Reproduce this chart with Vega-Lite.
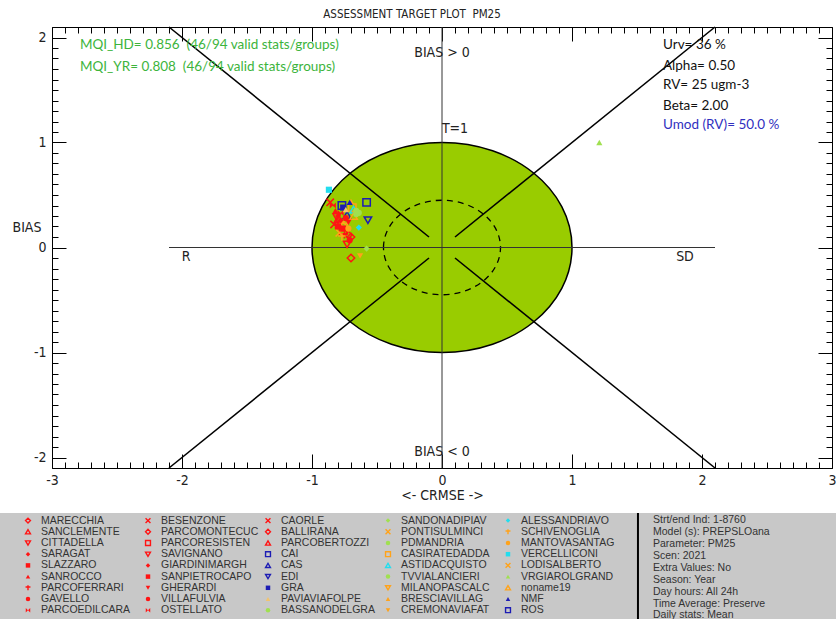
{
  "$schema": "https://vega.github.io/schema/vega-lite/v6.json",
  "background": "white",
  "padding": {"left": 0, "top": 8, "right": 0, "bottom": 0},
  "spacing": 9,
  "config": {
    "view": {"stroke": null},
    "font": "Liberation Sans",
    "axis": {"labelOverlap": false, "labelFlush": false, "labelBound": false, "grid": false, "ticks": true, "domain": false, "zindex": 1, "tickColor": "#000000", "tickWidth": 1}
  },
  "datasets": {
    "stations": [
      {"name": "MARECCHIA", "crmse": -0.70, "bias": -0.10, "lcol": 0, "lrow": 0},
      {"name": "SANCLEMENTE", "crmse": -0.79, "bias": 0.22, "lcol": 0, "lrow": 1},
      {"name": "CITTADELLA", "crmse": -0.73, "bias": 0.03, "lcol": 0, "lrow": 2},
      {"name": "SARAGAT", "crmse": -0.80, "bias": 0.30, "lcol": 0, "lrow": 3},
      {"name": "SLAZZARO", "crmse": -0.76, "bias": 0.18, "lcol": 0, "lrow": 4},
      {"name": "SANROCCO", "crmse": -0.82, "bias": 0.35, "lcol": 0, "lrow": 5},
      {"name": "PARCOFERRARI", "crmse": -0.75, "bias": 0.12, "lcol": 0, "lrow": 6},
      {"name": "GAVELLO", "crmse": -0.71, "bias": 0.07, "lcol": 0, "lrow": 7},
      {"name": "PARCOEDILCARA", "crmse": -0.84, "bias": 0.40, "lcol": 0, "lrow": 8},
      {"name": "BESENZONE", "crmse": -0.86, "bias": 0.43, "lcol": 1, "lrow": 0},
      {"name": "PARCOMONTECUC", "crmse": -0.70, "bias": 0.10, "lcol": 1, "lrow": 1},
      {"name": "PARCORESISTEN", "crmse": -0.76, "bias": 0.16, "lcol": 1, "lrow": 2},
      {"name": "SAVIGNANO", "crmse": -0.81, "bias": 0.29, "lcol": 1, "lrow": 3},
      {"name": "GIARDINIMARGH", "crmse": -0.78, "bias": 0.26, "lcol": 1, "lrow": 4},
      {"name": "SANPIETROCAPO", "crmse": -0.80, "bias": 0.20, "lcol": 1, "lrow": 5},
      {"name": "GHERARDI", "crmse": -0.72, "bias": 0.24, "lcol": 1, "lrow": 6},
      {"name": "VILLAFULVIA", "crmse": -0.74, "bias": 0.28, "lcol": 1, "lrow": 7},
      {"name": "OSTELLATO", "crmse": -0.78, "bias": 0.33, "lcol": 1, "lrow": 8},
      {"name": "CAORLE", "crmse": -0.83, "bias": 0.22, "lcol": 2, "lrow": 0},
      {"name": "BALLIRANA", "crmse": -0.72, "bias": 0.12, "lcol": 2, "lrow": 1},
      {"name": "PARCOBERTOZZI", "crmse": -0.80, "bias": 0.27, "lcol": 2, "lrow": 2},
      {"name": "CAI", "crmse": -0.77, "bias": 0.40, "lcol": 2, "lrow": 3},
      {"name": "CAS", "crmse": -0.73, "bias": 0.31, "lcol": 2, "lrow": 4},
      {"name": "EDI", "crmse": -0.57, "bias": 0.26, "lcol": 2, "lrow": 5},
      {"name": "GRA", "crmse": -0.76, "bias": 0.38, "lcol": 2, "lrow": 6},
      {"name": "PAVIAVIAFOLPE", "crmse": -0.74, "bias": 0.36, "lcol": 2, "lrow": 7},
      {"name": "BASSANODELGRA", "crmse": -0.66, "bias": 0.32, "lcol": 2, "lrow": 8},
      {"name": "SANDONADIPIAV", "crmse": -0.58, "bias": -0.01, "lcol": 3, "lrow": 0},
      {"name": "PONTISULMINCI", "crmse": -0.76, "bias": 0.24, "lcol": 3, "lrow": 1},
      {"name": "PDMANDRIA", "crmse": -0.64, "bias": 0.33, "lcol": 3, "lrow": 2},
      {"name": "CASIRATEDADDA", "crmse": -0.69, "bias": 0.38, "lcol": 3, "lrow": 3},
      {"name": "ASTIDACQUISTO", "crmse": -0.68, "bias": 0.36, "lcol": 3, "lrow": 4},
      {"name": "TVVIALANCIERI", "crmse": -0.66, "bias": 0.35, "lcol": 3, "lrow": 5},
      {"name": "MILANOPASCALC", "crmse": -0.75, "bias": 0.20, "lcol": 3, "lrow": 6},
      {"name": "BRESCIAVILLAG", "crmse": -0.70, "bias": 0.44, "lcol": 3, "lrow": 7},
      {"name": "CREMONAVIAFAT", "crmse": -0.63, "bias": -0.08, "lcol": 3, "lrow": 8},
      {"name": "ALESSANDRIAVO", "crmse": -0.64, "bias": 0.19, "lcol": 4, "lrow": 0},
      {"name": "SCHIVENOGLIA", "crmse": -0.77, "bias": 0.10, "lcol": 4, "lrow": 1},
      {"name": "MANTOVASANTAG", "crmse": -0.72, "bias": 0.18, "lcol": 4, "lrow": 2},
      {"name": "VERCELLICONI", "crmse": -0.87, "bias": 0.55, "lcol": 4, "lrow": 3},
      {"name": "LODISALBERTO", "crmse": -0.79, "bias": 0.14, "lcol": 4, "lrow": 4},
      {"name": "VRGIAROLGRAND", "crmse": 1.21, "bias": 1.00, "lcol": 4, "lrow": 5},
      {"name": "noname19", "crmse": -0.68, "bias": 0.30, "lcol": 4, "lrow": 6},
      {"name": "NMF", "crmse": -0.71, "bias": 0.43, "lcol": 4, "lrow": 7},
      {"name": "ROS", "crmse": -0.58, "bias": 0.43, "lcol": 4, "lrow": 8}
    ],
    "segments": [
      {"crmse": -2.1, "bias": 2.1, "crmse2": -0.1, "bias2": 0.1},
      {"crmse": 2.1, "bias": 2.1, "crmse2": 0.1, "bias2": 0.1},
      {"crmse": -2.1, "bias": -2.1, "crmse2": -0.1, "bias2": -0.1},
      {"crmse": 2.1, "bias": -2.1, "crmse2": 0.1, "bias2": -0.1}
    ],
    "crosshair": [
      {"crmse": -2.1, "bias": 0, "crmse2": 2.1, "bias2": 0},
      {"crmse": 0, "bias": -2.1, "crmse2": 0, "bias2": 2.1}
    ],
    "sectors": [
      {"text": "BIAS > 0", "crmse": 0, "bias": 1.857},
      {"text": "BIAS < 0", "crmse": 0, "bias": -1.952},
      {"text": "T=1", "crmse": 0.1, "bias": 1.124},
      {"text": "R", "crmse": -1.969, "bias": -0.086},
      {"text": "SD", "crmse": 1.869, "bias": -0.086}
    ],
    "mqi": [
      {"text": "MQI_HD= 0.856\u00a0 (46/94 valid stats/groups)", "crmse": -2.785, "bias": 1.924},
      {"text": "MQI_YR= 0.808\u00a0 (46/94 valid stats/groups)", "crmse": -2.785, "bias": 1.72}
    ],
    "params": [
      {"text": "Urv= 36 %", "crmse": 1.70, "bias": 1.924},
      {"text": "Alpha= 0.50", "crmse": 1.70, "bias": 1.733},
      {"text": "RV= 25 ugm-3", "crmse": 1.70, "bias": 1.543},
      {"text": "Beta= 2.00", "crmse": 1.70, "bias": 1.352}
    ],
    "umod": [
      {"text": "Umod (RV)= 50.0 %", "crmse": 1.70, "bias": 1.162}
    ],
    "info": [
      {"line": "Strt/end Ind: 1-8760", "irow": 0},
      {"line": "Model (s): PREPSLOana", "irow": 1},
      {"line": "Parameter: PM25", "irow": 2},
      {"line": "Scen: 2021", "irow": 3},
      {"line": "Extra Values: No", "irow": 4},
      {"line": "Season: Year", "irow": 5},
      {"line": "Day hours: All 24h", "irow": 6},
      {"line": "Time Average: Preserve", "irow": 7},
      {"line": "Daily stats: Mean", "irow": 8}
    ]
  },
  "vconcat": [
    {
      "width": 780,
      "height": 441,
      "title": {
        "text": "ASSESSMENT TARGET PLOT\u00a0\u00a0PM25",
        "frame": "group",
        "anchor": "middle",
        "dx": -30,
        "font": "Liberation Sans Narrow, DejaVu Sans Condensed, Liberation Sans",
        "fontSize": 11.5,
        "fontWeight": "normal",
        "color": "#222222",
        "offset": 6
      },
      "view": {"stroke": "#000000", "strokeWidth": 1},
      "resolve": {"axis": {"x": "independent", "y": "independent"}},
      "layer": [
        {
          "data": {"values": [{"crmse": 0, "bias": 0}]},
          "mark": {
            "type": "point",
            "shape": "M-1,0A1,0.8077,0,1,1,1,0A1,0.8077,0,1,1,-1,0Z",
            "size": 67600,
            "filled": true,
            "fill": "#99cc00",
            "fillOpacity": 1,
            "stroke": "#000000",
            "strokeWidth": 1.5,
            "opacity": 1
          },
          "encoding": {
            "x": {
              "field": "crmse", "type": "quantitative",
              "scale": {"domain": [-3, 3], "nice": false, "zero": false},
              "axis": {
                "orient": "bottom",
                "offset": -6,
                "tickSize": 6,
                "values": [-3,-2.9,-2.8,-2.7,-2.6,-2.5,-2.4,-2.3,-2.2,-2.1,-2,-1.9,-1.8,-1.7,-1.6,-1.5,-1.4,-1.3,-1.2,-1.1,-1,-0.9,-0.8,-0.7,-0.6,-0.5,-0.4,-0.3,-0.2,-0.1,0,0.1,0.2,0.3,0.4,0.5,0.6,0.7,0.8,0.9,1,1.1,1.2,1.3,1.4,1.5,1.6,1.7,1.8,1.9,2,2.1,2.2,2.3,2.4,2.5,2.6,2.7,2.8,2.9,3],
                "labelExpr": "abs(datum.value - round(datum.value)) < 0.001 ? '' + round(datum.value) : ''",
                "labelPadding": 5,
                "labelFont": "Liberation Sans Narrow, DejaVu Sans Condensed, Liberation Sans",
                "labelFontSize": 14,
                "labelColor": "#222222",
                "title": "<- CRMSE ->",
                "titleFont": "Liberation Sans Narrow, DejaVu Sans Condensed, Liberation Sans",
                "titleFontSize": 14,
                "titleFontWeight": "normal",
                "titleColor": "#222222",
                "titlePadding": 1
              }
            },
            "y": {
              "field": "bias", "type": "quantitative",
              "scale": {"domain": [-2.1, 2.1], "nice": false, "zero": false},
              "axis": {
                "orient": "left",
                "offset": -6,
                "tickSize": 6,
                "values": [-2,-1.9,-1.8,-1.7,-1.6,-1.5,-1.4,-1.3,-1.2,-1.1,-1,-0.9,-0.8,-0.7,-0.6,-0.5,-0.4,-0.3,-0.2,-0.1,0,0.1,0.2,0.3,0.4,0.5,0.6,0.7,0.8,0.9,1,1.1,1.2,1.3,1.4,1.5,1.6,1.7,1.8,1.9,2],
                "labelExpr": "abs(datum.value - round(datum.value)) < 0.001 ? '' + round(datum.value) : ''",
                "labelPadding": 6,
                "labelFont": "Liberation Sans Narrow, DejaVu Sans Condensed, Liberation Sans",
                "labelFontSize": 14,
                "labelColor": "#222222",
                "title": "BIAS",
                "titleAngle": 0,
                "titleAlign": "left",
                "titleBaseline": "middle",
                "titleX": -46,
                "titleY": 200,
                "titleFont": "Liberation Sans Narrow, DejaVu Sans Condensed, Liberation Sans",
                "titleFontSize": 14,
                "titleFontWeight": "normal",
                "titleColor": "#222222"
              }
            }
          }
        },
        {
          "data": {"values": [{"crmse": 0, "bias": 0}]},
          "mark": {
            "type": "point",
            "shape": "M-1,0A1,0.8077,0,1,1,1,0A1,0.8077,0,1,1,-1,0Z",
            "size": 13689,
            "filled": false,
            "stroke": "#000000",
            "strokeWidth": 1.3,
            "strokeDash": [6, 5],
            "opacity": 1
          },
          "encoding": {
            "x": {
              "field": "crmse", "type": "quantitative",
              "scale": {"domain": [-3, 3], "nice": false, "zero": false},
              "axis": {
                "orient": "top",
                "offset": -6,
                "tickSize": 6,
                "values": [-3,-2.9,-2.8,-2.7,-2.6,-2.5,-2.4,-2.3,-2.2,-2.1,-2,-1.9,-1.8,-1.7,-1.6,-1.5,-1.4,-1.3,-1.2,-1.1,-1,-0.9,-0.8,-0.7,-0.6,-0.5,-0.4,-0.3,-0.2,-0.1,0,0.1,0.2,0.3,0.4,0.5,0.6,0.7,0.8,0.9,1,1.1,1.2,1.3,1.4,1.5,1.6,1.7,1.8,1.9,2,2.1,2.2,2.3,2.4,2.5,2.6,2.7,2.8,2.9,3],
                "labels": false,
                "title": null
              }
            },
            "y": {
              "field": "bias", "type": "quantitative",
              "scale": {"domain": [-2.1, 2.1], "nice": false, "zero": false},
              "axis": {
                "orient": "right",
                "offset": -6,
                "tickSize": 6,
                "values": [-2,-1.9,-1.8,-1.7,-1.6,-1.5,-1.4,-1.3,-1.2,-1.1,-1,-0.9,-0.8,-0.7,-0.6,-0.5,-0.4,-0.3,-0.2,-0.1,0,0.1,0.2,0.3,0.4,0.5,0.6,0.7,0.8,0.9,1,1.1,1.2,1.3,1.4,1.5,1.6,1.7,1.8,1.9,2],
                "labels": false,
                "title": null
              }
            }
          }
        },
        {
          "data": {"name": "crosshair"},
          "mark": {"type": "rule", "color": "#333333", "strokeWidth": 1},
          "encoding": {
            "x": {
              "field": "crmse", "type": "quantitative", "scale": {"domain": [-3, 3], "nice": false, "zero": false},
              "axis": {"orient": "bottom", "offset": -14, "tickSize": 14, "values": [-3, -2, -1, 0, 1, 2, 3], "labels": false, "title": null}
            },
            "y": {
              "field": "bias", "type": "quantitative", "scale": {"domain": [-2.1, 2.1], "nice": false, "zero": false},
              "axis": {"orient": "left", "offset": -14, "tickSize": 14, "values": [-2, -1, 0, 1, 2], "labels": false, "title": null}
            },
            "x2": {"field": "crmse2"},
            "y2": {"field": "bias2"}
          }
        },
        {
          "data": {"name": "segments"},
          "mark": {"type": "rule", "color": "#000000", "strokeWidth": 1.6},
          "encoding": {
            "x": {
              "field": "crmse", "type": "quantitative", "scale": {"domain": [-3, 3], "nice": false, "zero": false},
              "axis": {"orient": "top", "offset": -14, "tickSize": 14, "values": [-3, -2, -1, 0, 1, 2, 3], "labels": false, "title": null}
            },
            "y": {
              "field": "bias", "type": "quantitative", "scale": {"domain": [-2.1, 2.1], "nice": false, "zero": false},
              "axis": {"orient": "right", "offset": -14, "tickSize": 14, "values": [-2, -1, 0, 1, 2], "labels": false, "title": null}
            },
            "x2": {"field": "crmse2"},
            "y2": {"field": "bias2"}
          }
        },
        {
          "data": {"name": "sectors"},
          "mark": {"type": "text", "font": "Liberation Sans Narrow, DejaVu Sans Condensed, Liberation Sans", "fontSize": 14, "color": "#222222", "align": "center", "baseline": "middle"},
          "encoding": {
            "x": {"field": "crmse", "type": "quantitative", "scale": {"domain": [-3, 3], "nice": false, "zero": false}, "axis": null},
            "y": {"field": "bias", "type": "quantitative", "scale": {"domain": [-2.1, 2.1], "nice": false, "zero": false}, "axis": null},
            "text": {"field": "text"}
          }
        },
        {
          "data": {"name": "mqi"},
          "mark": {"type": "text", "font": "Lato", "fontSize": 13.5, "color": "#3cb43c", "align": "left", "baseline": "middle"},
          "encoding": {
            "x": {"field": "crmse", "type": "quantitative", "scale": {"domain": [-3, 3], "nice": false, "zero": false}, "axis": null},
            "y": {"field": "bias", "type": "quantitative", "scale": {"domain": [-2.1, 2.1], "nice": false, "zero": false}, "axis": null},
            "text": {"field": "text"}
          }
        },
        {
          "data": {"name": "params"},
          "mark": {"type": "text", "font": "Lato", "fontSize": 13.5, "color": "#111111", "align": "left", "baseline": "middle"},
          "encoding": {
            "x": {"field": "crmse", "type": "quantitative", "scale": {"domain": [-3, 3], "nice": false, "zero": false}, "axis": null},
            "y": {"field": "bias", "type": "quantitative", "scale": {"domain": [-2.1, 2.1], "nice": false, "zero": false}, "axis": null},
            "text": {"field": "text"}
          }
        },
        {
          "data": {"name": "umod"},
          "mark": {"type": "text", "font": "Lato", "fontSize": 13.5, "color": "#3030c0", "align": "left", "baseline": "middle"},
          "encoding": {
            "x": {"field": "crmse", "type": "quantitative", "scale": {"domain": [-3, 3], "nice": false, "zero": false}, "axis": null},
            "y": {"field": "bias", "type": "quantitative", "scale": {"domain": [-2.1, 2.1], "nice": false, "zero": false}, "axis": null},
            "text": {"field": "text"}
          }
        },
        {
          "data": {"name": "stations"},
          "transform": [{"filter": {"field": "name", "oneOf": ["MARECCHIA","SANCLEMENTE","CITTADELLA","PARCOFERRARI","BESENZONE","PARCOMONTECUC","PARCORESISTEN","SAVIGNANO","CAORLE","BALLIRANA","PARCOBERTOZZI","CAI","CAS","EDI","PONTISULMINCI","CASIRATEDADDA","ASTIDACQUISTO","MILANOPASCALC","SCHIVENOGLIA","LODISALBERTO","noname19","ROS"]}}],
          "mark": {"type": "point", "filled": false, "size": 55, "strokeWidth": 1.5, "opacity": 1},
          "encoding": {
            "x": {"field": "crmse", "type": "quantitative", "scale": {"domain": [-3, 3], "nice": false, "zero": false}, "axis": null},
            "y": {"field": "bias", "type": "quantitative", "scale": {"domain": [-2.1, 2.1], "nice": false, "zero": false}, "axis": null},
            "shape": {"field": "name", "type": "nominal", "legend": null,
              "scale": {
                "domain": ["MARECCHIA","SANCLEMENTE","CITTADELLA","SARAGAT","SLAZZARO","SANROCCO","PARCOFERRARI","GAVELLO","PARCOEDILCARA","BESENZONE","PARCOMONTECUC","PARCORESISTEN","SAVIGNANO","GIARDINIMARGH","SANPIETROCAPO","GHERARDI","VILLAFULVIA","OSTELLATO","CAORLE","BALLIRANA","PARCOBERTOZZI","CAI","CAS","EDI","GRA","PAVIAVIAFOLPE","BASSANODELGRA","SANDONADIPIAV","PONTISULMINCI","PDMANDRIA","CASIRATEDADDA","ASTIDACQUISTO","TVVIALANCIERI","MILANOPASCALC","BRESCIAVILLAG","CREMONAVIAFAT","ALESSANDRIAVO","SCHIVENOGLIA","MANTOVASANTAG","VERCELLICONI","LODISALBERTO","VRGIAROLGRAND","noname19","NMF","ROS"],
                "range": ["diamond","triangle-up","triangle-down","diamond","square","triangle-up","M-1,-0.3L1,-0.3M0,-1L0,1","circle","M-1,-1L1,1L1,-1L-1,1Z","M-1,-1L1,1M-1,1L1,-1","diamond","square","triangle-down","diamond","square","triangle-down","circle","M-1,-1L1,1L1,-1L-1,1Z","M-1,-1L1,1M-1,1L1,-1","diamond","triangle-up","square","triangle-up","triangle-down","square","triangle-up","circle","diamond","M-1,-1L1,1M-1,1L1,-1","circle","square","triangle-up","circle","triangle-down","triangle-up","triangle-down","diamond","M-1,-0.3L1,-0.3M0,-1L0,1","circle","square","M-1,-1L1,1M-1,1L1,-1","triangle-up","triangle-up","triangle-up","square"]
              }
            },
            "color": {"field": "name", "type": "nominal", "legend": null,
              "scale": {
                "domain": ["MARECCHIA","SANCLEMENTE","CITTADELLA","SARAGAT","SLAZZARO","SANROCCO","PARCOFERRARI","GAVELLO","PARCOEDILCARA","BESENZONE","PARCOMONTECUC","PARCORESISTEN","SAVIGNANO","GIARDINIMARGH","SANPIETROCAPO","GHERARDI","VILLAFULVIA","OSTELLATO","CAORLE","BALLIRANA","PARCOBERTOZZI","CAI","CAS","EDI","GRA","PAVIAVIAFOLPE","BASSANODELGRA","SANDONADIPIAV","PONTISULMINCI","PDMANDRIA","CASIRATEDADDA","ASTIDACQUISTO","TVVIALANCIERI","MILANOPASCALC","BRESCIAVILLAG","CREMONAVIAFAT","ALESSANDRIAVO","SCHIVENOGLIA","MANTOVASANTAG","VERCELLICONI","LODISALBERTO","VRGIAROLGRAND","noname19","NMF","ROS"],
                "range": ["#ff1414","#ff1414","#ff1414","#ff1414","#ff1414","#ff1414","#ff1414","#ff1414","#ff1414","#ff1414","#ff1414","#ff1414","#ff1414","#ff1414","#ff1414","#ff1414","#ff1414","#ff1414","#ff1414","#ff1414","#ff1414","#1c1cb4","#1c1cb4","#1c1cb4","#1c1cb4","#f2c46d","#a0e050","#a0e050","#ffa31a","#a0e050","#ffa31a","#22ddee","#a0e050","#ffa31a","#ffa31a","#ffa31a","#22ddee","#ffa31a","#ffa31a","#22ddee","#ffa31a","#a0e050","#ffa31a","#1c1cb4","#1c1cb4"]
              }
            }
          }
        },
        {
          "data": {"name": "stations"},
          "transform": [{"filter": {"not": {"field": "name", "oneOf": ["MARECCHIA","SANCLEMENTE","CITTADELLA","PARCOFERRARI","BESENZONE","PARCOMONTECUC","PARCORESISTEN","SAVIGNANO","CAORLE","BALLIRANA","PARCOBERTOZZI","CAI","CAS","EDI","PONTISULMINCI","CASIRATEDADDA","ASTIDACQUISTO","MILANOPASCALC","SCHIVENOGLIA","LODISALBERTO","noname19","ROS"]}}}],
          "mark": {"type": "point", "filled": true, "size": 38, "opacity": 1},
          "encoding": {
            "x": {"field": "crmse", "type": "quantitative", "scale": {"domain": [-3, 3], "nice": false, "zero": false}, "axis": null},
            "y": {"field": "bias", "type": "quantitative", "scale": {"domain": [-2.1, 2.1], "nice": false, "zero": false}, "axis": null},
            "shape": {"field": "name", "type": "nominal", "legend": null},
            "color": {"field": "name", "type": "nominal", "legend": null}
          }
        }
      ]
    },
    {
      "width": 784,
      "height": 107,
      "view": {"stroke": null},
      "resolve": {"scale": {"y": "independent"}},
      "layer": [
        {
          "data": {"values": [{"panel": "legend"}]},
          "mark": {"type": "rect", "color": "#c8c8c8"},
          "encoding": {
            "x": {"datum": -0.2333, "type": "quantitative", "scale": {"domain": [0.2, 6.7333], "nice": false, "zero": false}, "axis": null},
            "x2": {"datum": 6.7333}
          }
        },
        {
          "data": {"values": [{"divider": 5.083}]},
          "mark": {"type": "rule", "color": "#000000", "strokeWidth": 2},
          "encoding": {
            "x": {"field": "divider", "type": "quantitative", "scale": {"domain": [0.2, 6.7333], "nice": false, "zero": false}, "axis": null}
          }
        },
        {
          "data": {"name": "stations"},
          "transform": [{"filter": {"field": "name", "oneOf": ["MARECCHIA","SANCLEMENTE","CITTADELLA","PARCOFERRARI","BESENZONE","PARCOMONTECUC","PARCORESISTEN","SAVIGNANO","CAORLE","BALLIRANA","PARCOBERTOZZI","CAI","CAS","EDI","PONTISULMINCI","CASIRATEDADDA","ASTIDACQUISTO","MILANOPASCALC","SCHIVENOGLIA","LODISALBERTO","noname19","ROS"]}}],
          "mark": {"type": "point", "filled": false, "size": 24, "strokeWidth": 1.4, "opacity": 1},
          "encoding": {
            "x": {"field": "lcol", "type": "quantitative", "scale": {"domain": [0.2, 6.7333], "nice": false, "zero": false}, "axis": null},
            "y": {"field": "lrow", "type": "quantitative", "scale": {"domain": [-0.679, 8.875], "nice": false, "zero": false, "reverse": true}, "axis": null},
            "shape": {"field": "name", "type": "nominal", "legend": null},
            "color": {"field": "name", "type": "nominal", "legend": null}
          }
        },
        {
          "data": {"name": "stations"},
          "transform": [{"filter": {"not": {"field": "name", "oneOf": ["MARECCHIA","SANCLEMENTE","CITTADELLA","PARCOFERRARI","BESENZONE","PARCOMONTECUC","PARCORESISTEN","SAVIGNANO","CAORLE","BALLIRANA","PARCOBERTOZZI","CAI","CAS","EDI","PONTISULMINCI","CASIRATEDADDA","ASTIDACQUISTO","MILANOPASCALC","SCHIVENOGLIA","LODISALBERTO","noname19","ROS"]}}}],
          "mark": {"type": "point", "filled": true, "size": 20, "opacity": 1},
          "encoding": {
            "x": {"field": "lcol", "type": "quantitative", "scale": {"domain": [0.2, 6.7333], "nice": false, "zero": false}, "axis": null},
            "y": {"field": "lrow", "type": "quantitative", "scale": {"domain": [-0.679, 8.875], "nice": false, "zero": false, "reverse": true}, "axis": null},
            "shape": {"field": "name", "type": "nominal", "legend": null},
            "color": {"field": "name", "type": "nominal", "legend": null}
          }
        },
        {
          "data": {"name": "stations"},
          "mark": {"type": "text", "align": "left", "baseline": "middle", "dx": 13, "font": "Liberation Sans", "fontSize": 10.5, "color": "#333333"},
          "encoding": {
            "x": {"field": "lcol", "type": "quantitative", "scale": {"domain": [0.2, 6.7333], "nice": false, "zero": false}, "axis": null},
            "y": {"field": "lrow", "type": "quantitative", "scale": {"domain": [-0.679, 8.875], "nice": false, "zero": false, "reverse": true}, "axis": null},
            "text": {"field": "name"}
          }
        },
        {
          "data": {"name": "info"},
          "mark": {"type": "text", "align": "left", "baseline": "middle", "font": "Liberation Sans", "fontSize": 10.5, "color": "#333333"},
          "encoding": {
            "x": {"datum": 5.208, "type": "quantitative", "scale": {"domain": [0.2, 6.7333], "nice": false, "zero": false}, "axis": null},
            "y": {"field": "irow", "type": "quantitative", "scale": {"domain": [-0.613, 8.379], "nice": false, "zero": false, "reverse": true}, "axis": null},
            "text": {"field": "line"}
          }
        }
      ]
    }
  ]
}
